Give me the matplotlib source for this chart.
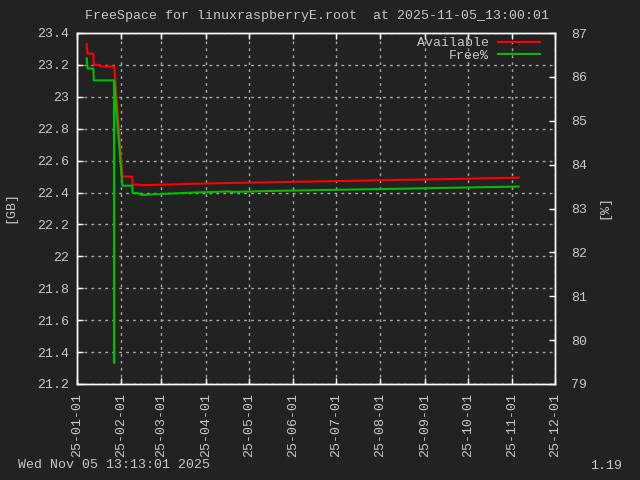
import matplotlib
matplotlib.use("Agg")
import matplotlib.pyplot as plt
import matplotlib.dates as mdates
from matplotlib.ticker import FuncFormatter, MultipleLocator
import numpy as np
import pandas as pd

# samples
stamps = ["2025-01-07 19:00", "2025-01-08 10:00", "2025-01-12 10:00", "2025-01-12 19:00",
          "2025-01-17 00:00", "2025-01-17 12:00", "2025-01-26 22:00", "2025-01-26 23:00",
          "2025-01-27 00:00", "2025-02-01 17:00", "2025-02-08 14:00", "2025-02-08 22:00",
          "2025-02-12 12:00", "2025-02-15 05:00", "2025-03-21 00:00", "2025-04-17 20:00",
          "2025-04-17 22:00", "2025-05-16 00:00", "2025-08-14 00:00", "2025-11-05 13:00"]
available_gb = [23.33, 23.27, 23.27, 23.20,
                23.20, 23.19, 23.19, 23.19,
                23.19, 22.50, 22.50, 22.45,
                22.45, 22.446, 22.454, 22.460,
                22.460, 22.464, 22.479, 22.493]
free_pct = [86.42, 86.19, 86.19, 85.92,
            85.92, 85.92, 85.92, 79.48,
            85.90, 83.52, 83.52, 83.35,
            83.35, 83.31, 83.36, 83.39,
            83.375, 83.40, 83.45, 83.50]
month_ticks = pd.date_range("2025-01-01", "2025-12-01", freq="MS")

title = "FreeSpace for linuxraspberryE.root  at 2025-11-05_13:00:01"
footer_left = "Wed Nov 05 13:13:01 2025"
footer_right = "1.19"

bg = "#222222"
fg = "#c8c8c8"
plt.rcParams["font.family"] = ["Liberation Mono", "DejaVu Sans Mono"]
plt.rcParams["font.size"] = 9.5

times = pd.to_datetime(stamps)

fig = plt.figure(figsize=(6.4, 4.8), dpi=100, facecolor=bg)
ax = fig.add_axes([77 / 640, 96 / 480, 478 / 640, 351 / 480])
ax.set_facecolor(bg)
ax2 = ax.twinx()

l1, = ax.plot(times, available_gb, color="#ff0000", lw=1.5, label="Available")
l2, = ax2.plot(times, free_pct, color="#00c000", lw=1.5, label="Free%")

ax.set_xlim(month_ticks[0], month_ticks[-1])
ax.set_ylim(21.2, 23.4)
ax2.set_ylim(79, 87)
ax.set_xticks(month_ticks)
ax.xaxis.set_major_formatter(mdates.DateFormatter("%y-%m-%d"))
ax.yaxis.set_major_locator(MultipleLocator(0.2))
ax.yaxis.set_major_formatter(FuncFormatter(lambda v, p: f"{v:g}"))
ax2.yaxis.set_major_locator(MultipleLocator(1))

for a in (ax, ax2):
    for s in a.spines.values():
        s.set_color("white")
        s.set_linewidth(1)
ax.tick_params(axis="x", direction="in", top=True, length=4, width=1, color="white",
               labelcolor=fg, pad=6.5, labelrotation=90)
ax.tick_params(axis="y", direction="in", right=False, length=4, width=1, color="white",
               labelcolor=fg, pad=6)
ax2.tick_params(axis="y", direction="in", length=4, width=1, color="white",
                labelcolor=fg, pad=11.5)

ax.grid(True, color="#a8a8a8", linestyle=(0, (2, 3)), lw=1)
ax.set_axisbelow(True)

leg = ax2.legend(handles=[l1, l2], loc="upper right", bbox_to_anchor=(0.9686, 0.988),
                 frameon=False, markerfirst=False, labelcolor=fg, handlelength=3.2,
                 handletextpad=0.7, labelspacing=0.0, borderpad=0, borderaxespad=0)

fig.text(317 / 640, 1 - 16 / 480, title, color=fg, ha="center", va="center")
fig.text(10 / 640, 1 - 207 / 480, "[GB]", color=fg, rotation=90, ha="center", va="center")
fig.text(604 / 640, 1 - 207 / 480, "[%]", color=fg, rotation=90, ha="center", va="center")
fig.text(18 / 640, 1 - 465 / 480, footer_left, color=fg, ha="left", va="center")
fig.text(622 / 640, 1 - 466 / 480, footer_right, color=fg, ha="right", va="center")

fig.savefig("out.png", dpi=100, facecolor=bg)
